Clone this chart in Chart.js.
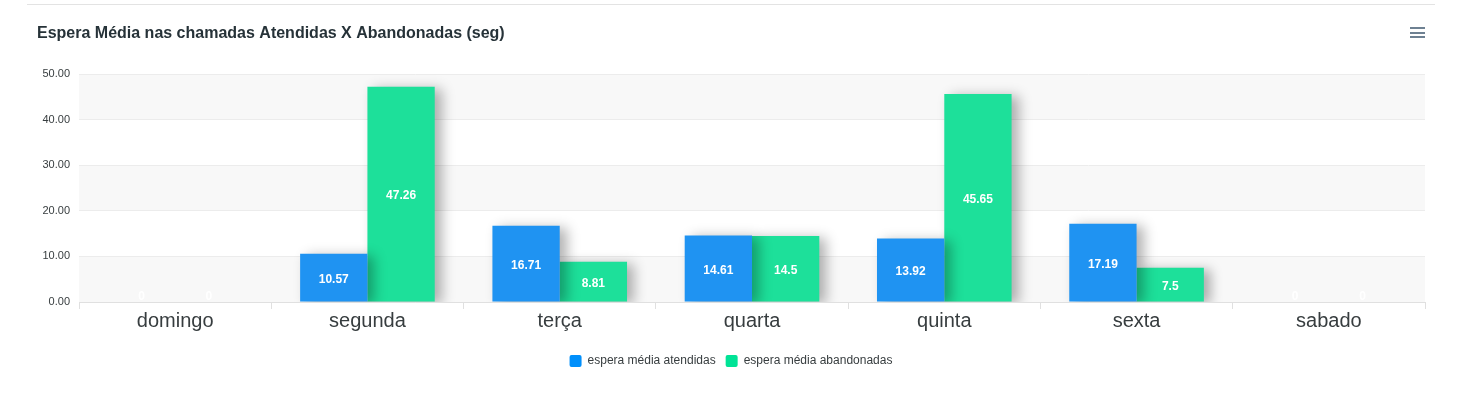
<!DOCTYPE html>
<html>
<head>
<meta charset="utf-8">
<script src="https://cdn.jsdelivr.net/npm/chart.js@4.4.0/dist/chart.umd.min.js"></script>
<style>
  html, body { margin: 0; padding: 0; background: #fff; }
  #wrap { position: relative; width: 1472px; height: 398px; }
  #linha { position: absolute; left: 27px; top: 4px; width: 1408px; height: 1px; background: #e3e3e3; }
  #menu { position: absolute; left: 1410px; top: 27px; width: 15px; }
  #menu span { display: block; height: 2px; background: #6e8192; margin-bottom: 2.5px; }
</style>
</head>
<body>
<div id="wrap">
  <canvas id="grafico" width="1472" height="398"></canvas>
  <div id="linha"></div>
  <div id="menu"><span></span><span></span><span></span></div>
</div>
<script>
  // dados
  const categorias = ["domingo", "segunda", "terça", "quarta", "quinta", "sexta", "sabado"];
  const atendidas = [0, 10.57, 16.71, 14.61, 13.92, 17.19, 0];
  const abandonadas = [0, 47.26, 8.81, 14.5, 45.65, 7.5, 0];
  const yTicks = [0, 10, 20, 30, 40, 50];

  const fonte = "'Liberation Sans', Arial, Helvetica, sans-serif";

  // faixas alternadas no fundo do gráfico
  const faixas = {
    id: "faixas",
    beforeDraw(chart) {
      const { ctx, chartArea, scales } = chart;
      ctx.save();
      ctx.fillStyle = "#f8f8f8";
      for (let i = 0; i < yTicks.length - 1; i += 2) {
        const y1 = scales.y.getPixelForValue(yTicks[i]);
        const y2 = scales.y.getPixelForValue(yTicks[i + 1]);
        ctx.fillRect(chartArea.left, y2, chartArea.right - chartArea.left, y1 - y2);
      }
      ctx.restore();
    }
  };

  // sombra das barras
  const sombra = {
    id: "sombra",
    beforeDatasetsDraw(chart) {
      const ctx = chart.ctx;
      ctx.save();
      ctx.shadowColor = "rgba(0,0,0,0.3)";
      ctx.shadowBlur = 12;
      ctx.shadowOffsetX = 7;
      ctx.shadowOffsetY = 2;
    },
    afterDatasetsDraw(chart) {
      chart.ctx.restore();
    }
  };

  // rótulos dentro das barras
  const rotulos = {
    id: "rotulos",
    afterDatasetsDraw(chart) {
      const ctx = chart.ctx;
      ctx.save();
      ctx.fillStyle = "#fff";
      ctx.font = "bold 12px " + fonte;
      ctx.textAlign = "center";
      ctx.textBaseline = "middle";
      chart.data.datasets.forEach((ds, i) => {
        chart.getDatasetMeta(i).data.forEach((bar, j) => {
          const v = ds.data[j];
          let y = (bar.y + bar.base) / 2 + 2;
          if (v === 0) y = bar.base - 5;
          ctx.fillText(String(v), bar.x, y);
        });
      });
      ctx.restore();
    }
  };

  const ctx = document.getElementById("grafico").getContext("2d");
  new Chart(ctx, {
    type: "bar",
    data: {
      labels: categorias,
      datasets: [
        { label: "espera média atendidas", data: atendidas, backgroundColor: "#1f93f2", borderWidth: 0 },
        { label: "espera média abandonadas", data: abandonadas, backgroundColor: "#1de09a", borderWidth: 0 }
      ]
    },
    options: {
      responsive: false,
      animation: false,
      layout: { padding: { left: 37, right: 47, top: 0, bottom: 21 } },
      datasets: { bar: { categoryPercentage: 0.7, barPercentage: 1.0 } },
      plugins: {
        title: {
          display: true,
          text: "Espera Média nas chamadas Atendidas X Abandonadas (seg)",
          align: "start",
          color: "#263238",
          font: { family: fonte, size: 16, weight: "bold" },
          padding: { top: 24, bottom: 31 }
        },
        legend: {
          position: "bottom",
          labels: {
            color: "#373d3f",
            font: { family: fonte, size: 12 },
            boxWidth: 12,
            boxHeight: 12,
            padding: 10,
            useBorderRadius: true,
            borderRadius: 2,
            generateLabels: () => [
              { text: "espera média atendidas", fillStyle: "#008ffb", strokeStyle: "#008ffb", lineWidth: 0, fontColor: "#373d3f", borderRadius: 2, datasetIndex: 0 },
              { text: "espera média abandonadas", fillStyle: "#00e396", strokeStyle: "#00e396", lineWidth: 0, fontColor: "#373d3f", borderRadius: 2, datasetIndex: 1 }
            ]
          }
        },
        tooltip: { enabled: false }
      },
      scales: {
        x: {
          grid: { drawOnChartArea: false, drawTicks: true, tickLength: 7, color: "#e0e0e0", offset: true },
          border: { color: "#e0e0e0", width: 1 },
          ticks: { color: "#373d3f", font: { family: fonte, size: 20 }, padding: 0 },
          afterFit: (s) => { s.height = 43; }
        },
        y: {
          min: 0,
          max: 50,
          afterBuildTicks: (s) => { s.ticks = yTicks.map(v => ({ value: v })); },
          grid: { color: "#ececec", drawTicks: false },
          border: { display: false },
          ticks: {
            color: "#373d3f",
            font: { family: fonte, size: 11 },
            padding: 9,
            callback: (v) => Number(v).toFixed(2)
          },
          afterFit: (s) => { s.width = 42; }
        }
      }
    },
    plugins: [faixas, sombra, rotulos]
  });
</script>
</body>
</html>
